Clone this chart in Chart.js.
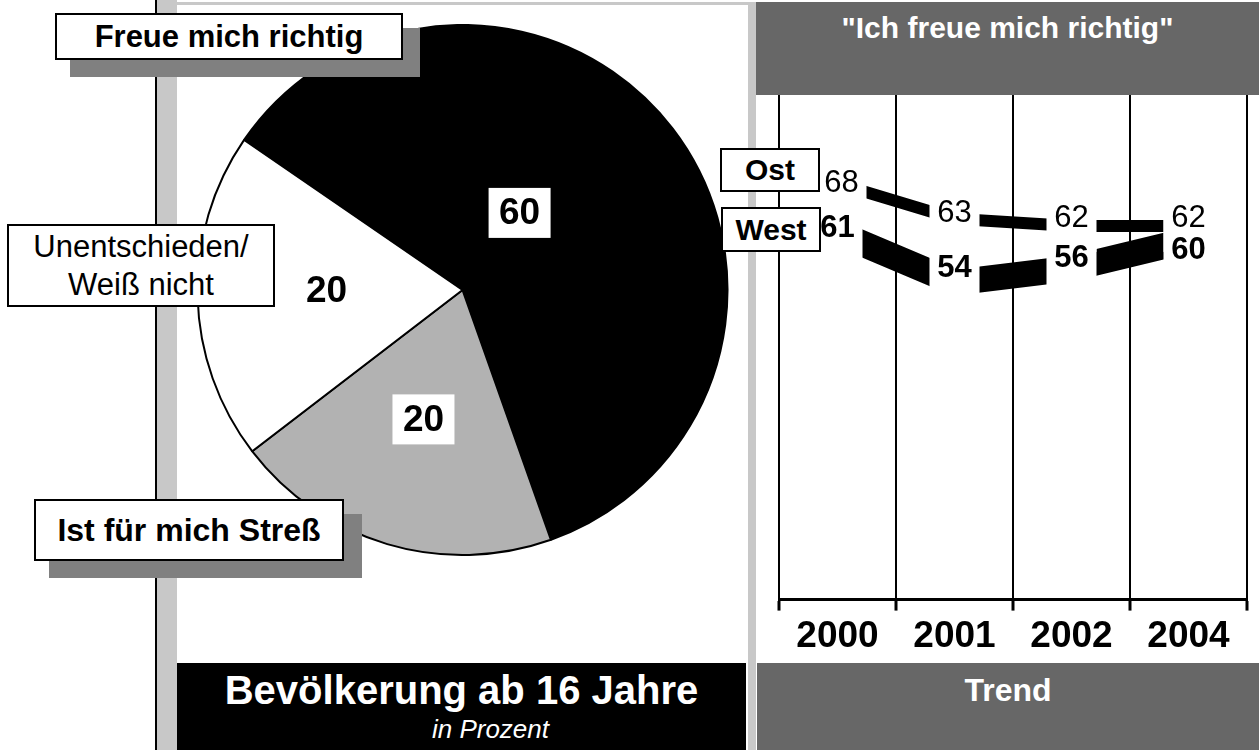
<!DOCTYPE html>
<html lang="de">
<head>
  <meta charset="UTF-8" />
  <title>Ich freue mich richtig</title>
  <script src="https://cdn.jsdelivr.net/npm/chart.js"></script>
  <style>
    body { margin: 0; background: #fff; font-family: Arial, "Liberation Sans", sans-serif; }
    #stage { position: relative; width: 1259px; height: 750px; overflow: hidden; }
    .abs { position: absolute; }
    .box {
      position: absolute; background: #fff; border: 2px solid #000; box-sizing: border-box;
      text-align: center; color: #000; white-space: pre-line;
    }
    .shadow { position: absolute; background: #808080; }
    canvas { position: absolute; }
  </style>
</head>
<body>
<div id="stage">
  <!-- Rahmen -->
  <div class="abs" style="left:155px;top:0;width:2px;height:750px;background:#000"></div>
  <div class="abs" style="left:157px;top:0;width:20px;height:750px;background:#c8c8c8"></div>
  <div class="abs" style="left:177px;top:2px;width:571px;height:3px;background:#c8c8c8"></div>
  <div class="abs" style="left:748px;top:2px;width:8px;height:748px;background:#c8c8c8"></div>

  <div class="abs" style="left:756px;top:2px;width:503px;height:93px;background:#676767;color:#fff;
       font:bold 30px Arial, 'Liberation Sans';text-align:center;line-height:36px;padding-top:8px;box-sizing:border-box">"Ich freue mich richtig"</div>

  <canvas id="pieChart" width="571" height="532" style="left:177px;top:24px"></canvas>
  <canvas id="trendChart" width="503" height="568" style="left:756px;top:95px"></canvas>

  <!-- Beschriftungen Kreis -->
  <div class="shadow" style="left:70px;top:28px;width:350px;height:49px"></div>
  <div class="box" id="lblJoy" style="left:55px;top:13px;width:348px;height:47px;font:bold 31px Arial, 'Liberation Sans';line-height:43px"></div>

  <div class="box" id="lblUnsure" style="left:7px;top:224px;width:268px;height:83px;font:31px Arial, 'Liberation Sans';line-height:38px;padding-top:2px"></div>

  <div class="shadow" style="left:49px;top:514px;width:313px;height:64px"></div>
  <div class="box" id="lblStress" style="left:34px;top:499px;width:310px;height:62px;font:bold 32px Arial, 'Liberation Sans';line-height:58px"></div>

  <!-- Ost / West -->
  <div class="box" id="lblOst" style="left:720px;top:148px;width:100px;height:44px;font:bold 30px Arial, 'Liberation Sans';line-height:40px"></div>
  <div class="box" id="lblWest" style="left:721px;top:207px;width:100px;height:45px;font:bold 30px Arial, 'Liberation Sans';line-height:41px"></div>

  <!-- Fußzeilen -->
  <div class="abs" style="left:177px;top:663px;width:569px;height:87px;background:#000;color:#fff;text-align:center">
    <div style="font:bold 40px Arial, 'Liberation Sans';line-height:44px;padding-top:5px">Bevölkerung ab 16 Jahre</div>
    <div style="font:italic 26px Arial, 'Liberation Sans';line-height:30px;margin-top:2px;padding-left:58px">in Prozent</div>
  </div>
  <div class="abs" style="left:757px;top:663px;width:502px;height:87px;background:#676767;color:#fff;
       font:bold 32px Arial, 'Liberation Sans';text-align:center;line-height:36px;padding-top:9px;box-sizing:border-box">Trend</div>
</div>

<script>
// Daten
const pieCategories = ['Freue mich richtig', 'Ist für mich Streß', 'Unentschieden/\nWeiß nicht'];
const pieValues = [60, 20, 20];

const years = ['2000', '2001', '2002', '2004'];
const ostValues = [68, 63, 62, 62];
const westValues = [61, 54, 56, 60];

document.getElementById('lblJoy').textContent = pieCategories[0];
document.getElementById('lblStress').textContent = pieCategories[1];
document.getElementById('lblUnsure').textContent = pieCategories[2];

// Zahlen im Kreis mit weißem Kasten
const pieLabels = {
  id: 'pieLabels',
  afterDatasetsDraw(chart, args, opts) {
    const ctx = chart.ctx;
    const arcs = chart.getDatasetMeta(0).data;
    ctx.save();
    ctx.font = 'bold 37px Arial, "Liberation Sans"';
    ctx.textAlign = 'center';
    ctx.textBaseline = 'middle';
    arcs.forEach((arc, i) => {
      const p = opts.place[i];
      const a = arc.startAngle + p.frac * (arc.endAngle - arc.startAngle);
      const r = arc.outerRadius * p.r;
      const x = arc.x + Math.cos(a) * r;
      const y = arc.y + Math.sin(a) * r;
      ctx.fillStyle = '#fff';
      ctx.fillRect(x - 31, y - 25, 62, 50);
      ctx.fillStyle = '#000';
      ctx.fillText(String(chart.data.datasets[0].data[i]), x, y + 1);
    });
    ctx.restore();
  }
};

// Werte an den Linien, Linienenden werden vom Kasten abgeschnitten
const trendLabels = {
  id: 'trendLabels',
  afterDatasetsDraw(chart, args, opts) {
    const ctx = chart.ctx;
    const items = [];
    chart.data.datasets.forEach((ds, di) => {
      const st = opts.styles[di];
      chart.getDatasetMeta(di).data.forEach((pt, i) => {
        items.push({
          text: String(ds.data[i]),
          x: pt.x + st.dx[i],
          y: pt.y + st.dy[i],
          py: pt.y,
          font: st.font
        });
      });
    });
    ctx.save();
    ctx.fillStyle = '#fff';
    items.forEach(it => {
      const top = Math.min(it.y - 19, it.py - 26);
      const bot = Math.max(it.y + 19, it.py + 26);
      ctx.fillRect(it.x - 25, top, 50, bot - top);
    });
    ctx.fillStyle = '#000';
    ctx.textAlign = 'center';
    ctx.textBaseline = 'middle';
    items.forEach(it => {
      ctx.font = it.font;
      ctx.fillText(it.text, it.x, it.y + 1);
    });
    ctx.restore();
  }
};

new Chart(document.getElementById('pieChart'), {
  type: 'pie',
  data: {
    labels: pieCategories,
    datasets: [{
      data: pieValues,
      backgroundColor: ['#000', '#b2b2b2', '#fff'],
      borderColor: '#000',
      borderWidth: 2,
      hoverOffset: 0
    }]
  },
  options: {
    responsive: false,
    animation: false,
    events: [],
    rotation: -55.5,
    layout: { padding: 0 },
    plugins: {
      legend: { display: false },
      tooltip: { enabled: false },
      pieLabels: {
        place: [
          { frac: 0.426, r: 0.362 },
          { frac: 0.504, r: 0.51 },
          { frac: 0.517, r: 0.513 }
        ]
      }
    }
  },
  plugins: [pieLabels]
});

const ost = { label: 'Ost', data: ostValues };
const west = { label: 'West', data: westValues };
document.getElementById('lblOst').textContent = ost.label;
document.getElementById('lblWest').textContent = west.label;

new Chart(document.getElementById('trendChart'), {
  type: 'line',
  data: {
    labels: years,
    datasets: [
      { ...ost, borderColor: '#000', borderWidth: 12, pointRadius: 0, borderCapStyle: 'butt', borderJoinStyle: 'bevel', fill: false, tension: 0 },
      { ...west, borderColor: '#000', borderWidth: 26, pointRadius: 0, borderCapStyle: 'butt', borderJoinStyle: 'bevel', fill: false, tension: 0 }
    ]
  },
  options: {
    responsive: false,
    animation: false,
    events: [],
    layout: { padding: { left: 23, right: 12, top: 0, bottom: 0 } },
    plugins: {
      legend: { display: false },
      tooltip: { enabled: false },
      trendLabels: {
        styles: [
          { font: '31px Arial, "Liberation Sans"', dx: [4, 0, 0, 0], dy: [-1, -6, -8, -8] },
          { font: 'bold 31px Arial, "Liberation Sans"', dx: [0, 0, 0, 0], dy: [-6, -15, -11, 9] }
        ]
      }
    },
    scales: {
      x: {
        offset: true,
        grid: { offset: true, color: '#000', lineWidth: 2, tickLength: 11, tickWidth: 3, tickColor: '#000' },
        border: { color: '#000', width: 3 },
        ticks: {
          color: '#000',
          font: { family: 'Arial, "Liberation Sans"', size: 37, weight: 'bold' },
          padding: 4,
          maxRotation: 0,
          autoSkip: false
        }
      },
      y: { display: false, min: 9.2, max: 80.5 }
    }
  },
  plugins: [trendLabels]
});
</script>
</body>
</html>
